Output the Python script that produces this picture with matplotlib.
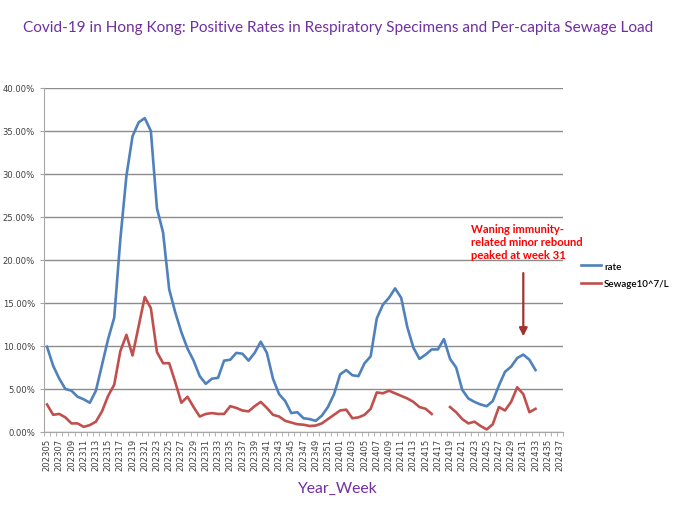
import numpy as np
import matplotlib.pyplot as plt
from matplotlib.ticker import FuncFormatter

# semanas: 202305..202352, 202401..202437
semanas = [f"2023{w:02d}" for w in range(5, 53)] + [f"2024{w:02d}" for w in range(1, 38)]

# taxa de positivos (%)
rate = [
    9.9, 7.7, 6.2, 5.0, 4.8, 4.1, 3.8, 3.4, 4.8, 7.8, 10.8, 13.3, 22.4, 29.8, 34.4, 36.0,
    36.5, 35.0, 26.0, 23.2, 16.6, 13.9, 11.6, 9.7, 8.3, 6.5, 5.6, 6.2, 6.3, 8.3, 8.4, 9.2,
    9.1, 8.3, 9.2, 10.5, 9.2, 6.2, 4.4, 3.6, 2.2, 2.3, 1.6, 1.5, 1.3, 1.9, 2.9, 4.4,
    6.7, 7.2, 6.6, 6.5, 8.0, 8.8, 13.2, 14.8, 15.6, 16.7, 15.6, 12.2, 9.8, 8.5, 9.0, 9.6,
    9.6, 10.8, 8.5, 7.5, 4.9, 3.9, 3.5, 3.2, 3.0, 3.6, 5.4, 7.0, 7.6, 8.6, 9.0, 8.4,
    7.2,
]

# carga de esgoto per capita (10^7/L), mesma escala
sewage = [
    3.2, 2.0, 2.1, 1.7, 1.0, 1.0, 0.6, 0.8, 1.2, 2.4, 4.2, 5.5, 9.4, 11.3, 8.9, 12.3,
    15.7, 14.4, 9.3, 8.0, 8.0, 5.8, 3.4, 4.1, 2.9, 1.8, 2.1, 2.2, 2.1, 2.1, 3.0, 2.8,
    2.5, 2.4, 3.0, 3.5, 2.8, 2.0, 1.8, 1.3, 1.1, 0.9, 0.85, 0.7, 0.75, 1.0, 1.5, 2.0,
    2.5, 2.6, 1.6, 1.7, 2.0, 2.7, 4.6, 4.5, 4.8, 4.5, 4.2, 3.9, 3.5, 2.9, 2.7, 2.1,
    np.nan, np.nan, 2.9, 2.3, 1.5, 1.0, 1.2, 0.7, 0.3, 0.9, 2.9, 2.5, 3.5, 5.2, 4.4, 2.3,
    2.7,
]

roxo = '#7030A0'
azul = '#4F81BD'
vermelho = '#C0504D'
cinza = '#A6A6A6'

plt.rcParams['font.family'] = ['Lato', 'DejaVu Sans']

fig = plt.figure(figsize=(6.8, 5.1), dpi=100)
ax = fig.add_axes([44 / 680, 77 / 510, 519 / 680, 344 / 510])

x = np.arange(len(rate))
ax.plot(x, rate, color=azul, lw=1.9, label='rate')
ax.plot(x, sewage, color=vermelho, lw=1.9, label='Sewage10^7/L')

ax.set_xlim(-0.5, len(semanas) - 0.5)
ax.set_ylim(0, 40)
ax.set_yticks(np.arange(0, 41, 5))
ax.yaxis.set_major_formatter(FuncFormatter(lambda v, p: f"{v:.2f}%"))
ax.grid(axis='y', color='#8C8C8C', lw=1.0)
ax.set_axisbelow(True)

ax.set_xticks(np.arange(0, len(semanas), 2))
ax.set_xticklabels(semanas[::2], rotation=90, fontsize=6.1, family=['DejaVu Sans'])
ax.set_xticks(np.arange(-0.5, len(semanas), 1), minor=True)
ax.tick_params(axis='x', which='major', length=0, pad=4, colors='#404040')
ax.tick_params(axis='x', which='minor', length=3, color=cinza)
ax.tick_params(axis='y', length=3, color=cinza, labelsize=6.1, labelcolor='#404040')
for lab in ax.get_yticklabels():
    lab.set_family(['DejaVu Sans'])

for s in ['top', 'right']:
    ax.spines[s].set_visible(False)
ax.spines['left'].set_color(cinza)
ax.spines['bottom'].set_color(cinza)

fig.text(338 / 680, 1 - 28 / 510, 'Covid-19 in Hong Kong: Positive Rates in Respiratory Specimens and Per-capita Sewage Load',
         ha='center', va='center', color=roxo, fontsize=11.1)
fig.text(337 / 680, 1 - 489 / 510, 'Year_Week', ha='center', va='center', color=roxo, fontsize=11.3)

# anotacao e seta
ax.text(69.5, 24.3, 'Waning immunity-\nrelated minor rebound\npeaked at week 31',
        color='#FF0000', fontsize=8.1, fontweight='bold', va='top', ha='left', linespacing=1.2)
ax.annotate('', xy=(78, 10.8), xytext=(78, 18.8),
            arrowprops=dict(arrowstyle='-|>', color='#A0332F', lw=1.6, mutation_scale=12))

ax.legend(loc='center left', bbox_to_anchor=(572 / 680, 1 - 276 / 510), bbox_transform=fig.transFigure,
          frameon=False, handlelength=2.1, handletextpad=0.3, labelspacing=0.9,
          prop={'size': 7, 'weight': 'semibold'})

fig.savefig('out.png', dpi=100)
